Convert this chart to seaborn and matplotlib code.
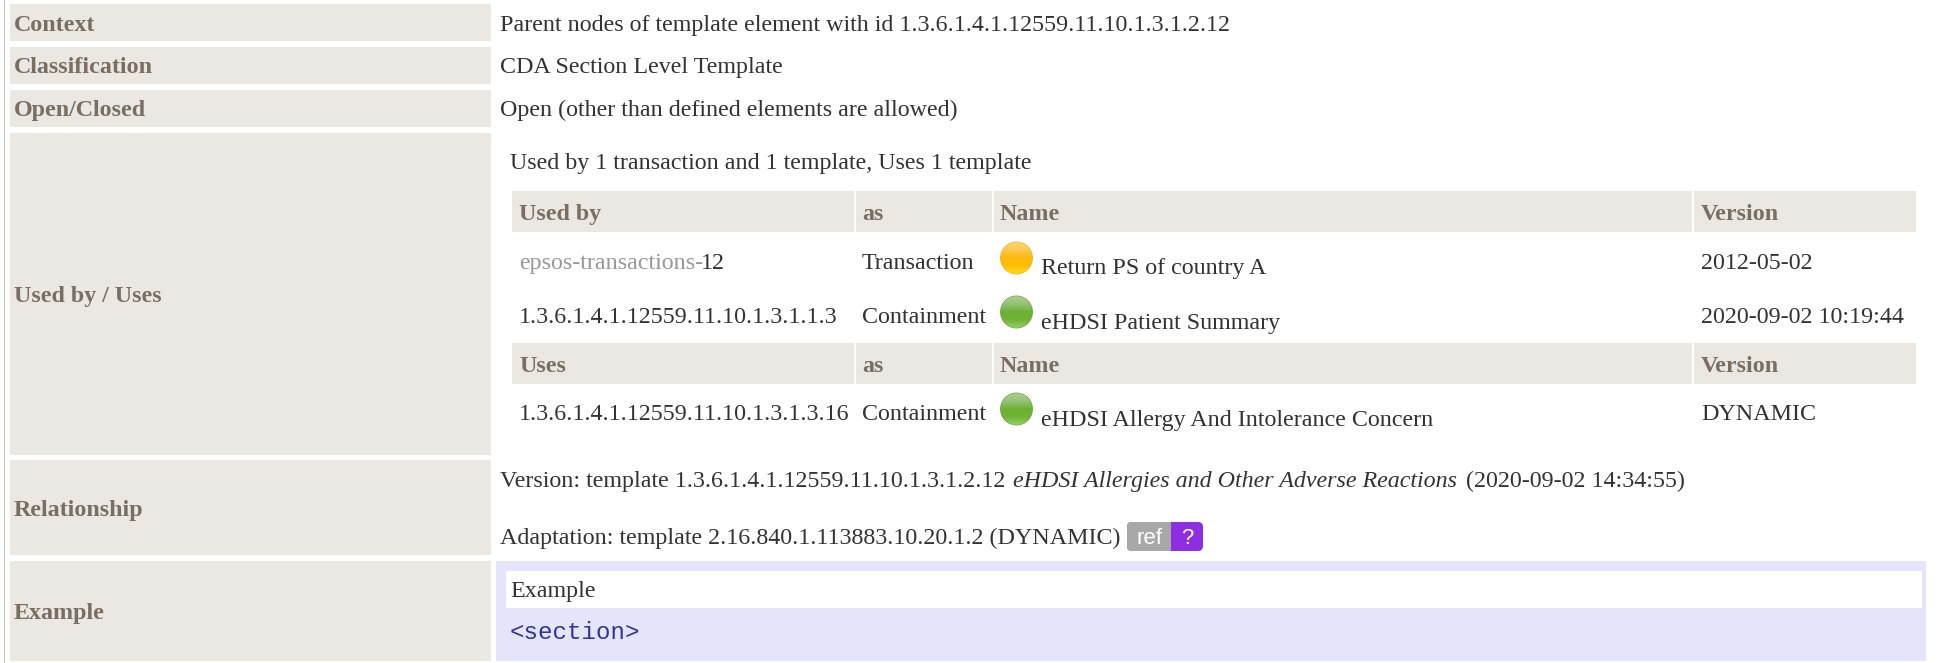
import matplotlib
matplotlib.use("Agg")
import matplotlib.pyplot as plt
from matplotlib.colors import LinearSegmentedColormap
from matplotlib.patches import Circle, FancyBboxPatch, Rectangle
import numpy as np
import pandas as pd
import seaborn as sns

SERIF = "Liberation Serif"
BODY = "#333333"
HEAD = "#7a6e62"
LABEL_BG = "#ebe8e3"
BLUE_BG = "#e4e4fa"

row_labels = ["Context", "Classification", "Open/Closed", "Used by / Uses", "Relationship", "Example"]
row_tops = [4, 47, 90, 133, 460, 561]
row_bottoms = [41, 84, 127, 455, 555, 661]
row_baselines = [31, 73, 116, 302, 516, 619]

plain_values = [
    "Parent nodes of template element with id 1.3.6.1.4.1.12559.11.10.1.3.1.2.12",
    "CDA Section Level Template",
    "Open (other than defined elements are allowed)",
]
summary = "Used by 1 transaction and 1 template, Uses 1 template"

inner_headers = ["as", "Name", "Version"]
inner_ids = ["1.3.6.1.4.1.12559.11.10.1.3.1.1.3", "1.3.6.1.4.1.12559.11.10.1.3.1.3.16"]
inner_as = ["Transaction", "Containment", "Containment"]
inner_names = ["Return PS of country A", "eHDSI Patient Summary", "eHDSI Allergy And Intolerance Concern"]
inner_versions = ["2012-05-02", "2020-09-02 10:19:44", "DYNAMIC"]
inner_status = ["draft", "active", "active"]

fig, ax = plt.subplots(figsize=(19.37, 6.63), dpi=100)
sns.set_style("white")
ax.set_position([0, 0, 1, 1])


def box(x0, y0, x1, y1, color):
    ax.add_patch(Rectangle((x0, y0), x1 - x0, y1 - y0, facecolor=color, edgecolor="none"))


def rounded(x0, y0, x1, y1, color):
    ax.add_patch(FancyBboxPatch((x0, y0), x1 - x0, y1 - y0, boxstyle="round,pad=0,rounding_size=5",
                                facecolor=color, edgecolor="none"))


def put(x, y, s, color=BODY, size=17.25, weight="normal", style="normal", family=SERIF, ha="left"):
    ax.text(x, y, s, color=color, fontsize=size, fontweight=weight, fontstyle=style,
            family=family, ha=ha, va="baseline")


# left page edge
ax.plot([3.5, 3.5], [0, 663], color="#c4c4c4", lw=0.7)

# label column
for label, top, bottom, base in zip(row_labels, row_tops, row_bottoms, row_baselines):
    box(10, top, 491, bottom, LABEL_BG)
    put(14, base, label, color=HEAD, weight="bold")

for value, base in zip(plain_values, row_baselines):
    put(500, base, value)

put(510, 169, summary)

# inner table headers
for top, bottom, base, first in [(191, 232, 220, "Used by"), (343, 384, 372, "Uses")]:
    box(512, top, 854, bottom, LABEL_BG)
    box(856, top, 992, bottom, LABEL_BG)
    box(994, top, 1692, bottom, LABEL_BG)
    box(1694, top, 1916, bottom, LABEL_BG)
    put(519, base, first, color=HEAD, weight="bold")
    for x, s in zip([862, 1000, 1701], inner_headers):
        put(x, base, s, color=HEAD, weight="bold")

# inner table rows
as_base = [269, 323, 420]
name_base = [274, 329, 426]
put(519, 269, "epsos-transactions-", color="#999999")
put(701, 269, "12")
put(519, 323, inner_ids[0])
put(519, 420, inner_ids[1])
for i in range(3):
    put(862, as_base[i], inner_as[i])
    put(1041, name_base[i], inner_names[i])
    put(1701, as_base[i], inner_versions[i])

# status dots
dots = pd.DataFrame({"x": [1016.5, 1016.5, 1016.5], "y": [258, 312, 409], "status": inner_status})
sns.scatterplot(data=dots, x="x", y="y", hue="status", palette={"draft": "#f0b020", "active": "#6f9f4c"},
                s=560, linewidth=0, legend=False, ax=ax, zorder=3)
ramps = {
    "draft": ["#fbd470", "#fcc84a", "#ffb90a", "#ffc000", "#ffd826"],
    "active": ["#a9cf8e", "#94c274", "#6cb034", "#70b436", "#98d064"],
}
grad = np.linspace(0, 1, 64).reshape(-1, 1)
for x, y, status in zip(dots["x"], dots["y"], dots["status"]):
    cmap = LinearSegmentedColormap.from_list(status, ramps[status])
    im = ax.imshow(grad, cmap=cmap, extent=(x - 16, x + 16, y + 16, y - 16), aspect="auto", zorder=4)
    im.set_clip_path(Circle((x, y), 15.8, transform=ax.transData))

# relationship row
put(500, 487, "Version: template 1.3.6.1.4.1.12559.11.10.1.3.1.2.12")
put(1013, 487, "eHDSI Allergies and Other Adverse Reactions", style="italic")
put(1466, 487, "(2020-09-02 14:34:55)")
put(500, 544, "Adaptation: template 2.16.840.1.113883.10.20.1.2 (DYNAMIC)")

# ref badge
rounded(1127, 522, 1203, 551, "#8e2de2")
rounded(1127, 522, 1160, 551, "#a8a8a8")
box(1145, 522, 1171, 551, "#a8a8a8")
put(1150, 544, "ref", color="white", size=16, family="Liberation Sans", ha="center")
put(1187, 544, "?", color="white", size=16, family="Liberation Sans", ha="center")

# example panel
box(496, 561, 1926, 661, BLUE_BG)
box(506, 571, 1922, 608, "white")
put(510, 597, "Example")
put(510, 639, "<section>", color="#333399", size=17.4, family="Liberation Mono")

ax.set_xlim(0, 1937)
ax.set_ylim(663, 0)
ax.axis("off")

fig.savefig("out.png", dpi=100)
